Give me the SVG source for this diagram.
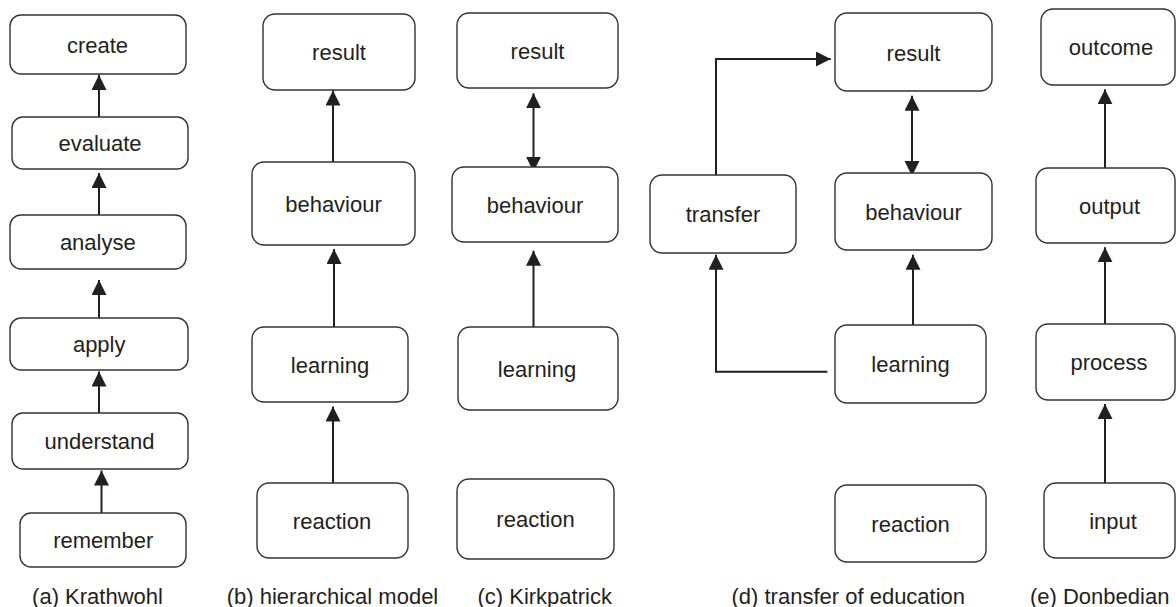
<svg xmlns="http://www.w3.org/2000/svg" width="1176" height="607" viewBox="0 0 1176 607">
<defs>
<style>
.box{fill:#fff;stroke:#333;stroke-width:1.4}
.lbl{font-family:"Liberation Sans",Arial,sans-serif;font-size:22px;fill:#231f20;text-anchor:middle}
.cap{font-family:"Liberation Sans",Arial,sans-serif;font-size:22px;fill:#231f20;text-anchor:middle}
.ln{fill:none;stroke:#231f20;stroke-width:2}
</style>
<marker id="ah" markerUnits="userSpaceOnUse" markerWidth="16" markerHeight="16" refX="15" refY="7.5" orient="auto-start-reverse" viewBox="0 0 16 16">
<path d="M0,0 L15,7.5 L0,15 z" fill="#231f20"/>
</marker>
</defs>
<rect width="1176" height="607" fill="#fff"/>

<g id="connectors">
<!-- (a) -->
<line class="ln" x1="99" y1="117" x2="99" y2="75" marker-end="url(#ah)"/>
<line class="ln" x1="99" y1="215" x2="99" y2="173" marker-end="url(#ah)"/>
<line class="ln" x1="99" y1="318" x2="99" y2="280" marker-end="url(#ah)"/>
<line class="ln" x1="99" y1="413" x2="99" y2="371.5" marker-end="url(#ah)"/>
<line class="ln" x1="101.5" y1="513" x2="101.5" y2="470.5" marker-end="url(#ah)"/>
<!-- (b) -->
<line class="ln" x1="333" y1="162" x2="333" y2="90.5" marker-end="url(#ah)"/>
<line class="ln" x1="334" y1="327" x2="334" y2="249" marker-end="url(#ah)"/>
<line class="ln" x1="333" y1="483" x2="333" y2="406.5" marker-end="url(#ah)"/>
<!-- (c) -->
<line class="ln" x1="533.5" y1="93.3" x2="533.5" y2="171.7" marker-start="url(#ah)" marker-end="url(#ah)"/>
<line class="ln" x1="533.5" y1="327" x2="533.5" y2="250.7" marker-end="url(#ah)"/>
<!-- (d) -->
<polyline class="ln" points="716,175 716,59 830.8,59" marker-end="url(#ah)"/>
<line class="ln" x1="912" y1="95.7" x2="912" y2="176" marker-start="url(#ah)" marker-end="url(#ah)"/>
<line class="ln" x1="913" y1="325" x2="913" y2="254.7" marker-end="url(#ah)"/>
<polyline class="ln" points="827.4,371.8 716,371.8 716,254.7" marker-end="url(#ah)"/>
<!-- (e) -->
<line class="ln" x1="1105" y1="168" x2="1105" y2="89.3" marker-end="url(#ah)"/>
<line class="ln" x1="1105" y1="324" x2="1105" y2="247.3" marker-end="url(#ah)"/>
<line class="ln" x1="1105" y1="483" x2="1105" y2="404" marker-end="url(#ah)"/>
</g>

<!-- (a) Krathwohl -->
<g id="a-create"><rect class="box" x="10" y="15" width="176" height="59" rx="11"/><text class="lbl" x="97.5" y="52.5">create</text></g>
<g id="a-evaluate"><rect class="box" x="12" y="117" width="176" height="52" rx="11"/><text class="lbl" x="100" y="151">evaluate</text></g>
<g id="a-analyse"><rect class="box" x="10" y="215" width="176" height="54" rx="11"/><text class="lbl" x="97.8" y="250">analyse</text></g>
<g id="a-apply"><rect class="box" x="10" y="318" width="178" height="52" rx="11"/><text class="lbl" x="99.2" y="352">apply</text></g>
<g id="a-understand"><rect class="box" x="12" y="413" width="176" height="56" rx="11"/><text class="lbl" x="99.5" y="449">understand</text></g>
<g id="a-remember"><rect class="box" x="20" y="513" width="166" height="54" rx="11"/><text class="lbl" x="103.3" y="548">remember</text></g>

<!-- (b) hierarchical model -->
<g id="b-result"><rect class="box" x="263" y="14" width="152" height="76" rx="12"/><text class="lbl" x="339" y="60">result</text></g>
<g id="b-behaviour"><rect class="box" x="252" y="162" width="163" height="83" rx="12"/><text class="lbl" x="333.5" y="212">behaviour</text></g>
<g id="b-learning"><rect class="box" x="252" y="327" width="156" height="75" rx="12"/><text class="lbl" x="330" y="372.5">learning</text></g>
<g id="b-reaction"><rect class="box" x="257" y="483" width="151" height="75" rx="12"/><text class="lbl" x="332" y="528.5">reaction</text></g>

<!-- (c) Kirkpatrick -->
<g id="c-result"><rect class="box" x="457" y="13" width="161" height="75" rx="12"/><text class="lbl" x="537.5" y="58.5">result</text></g>
<g id="c-behaviour"><rect class="box" x="452" y="167" width="166" height="75" rx="12"/><text class="lbl" x="535" y="212.5">behaviour</text></g>
<g id="c-learning"><rect class="box" x="458" y="327" width="160" height="83" rx="12"/><text class="lbl" x="537" y="376.5">learning</text></g>
<g id="c-reaction"><rect class="box" x="457" y="479" width="157" height="80" rx="12"/><text class="lbl" x="535.5" y="527">reaction</text></g>

<!-- (d) transfer of education -->
<g id="d-result"><rect class="box" x="835" y="13" width="157" height="78" rx="12"/><text class="lbl" x="913.5" y="60.5">result</text></g>
<g id="d-transfer"><rect class="box" x="650" y="175" width="146" height="78" rx="12"/><text class="lbl" x="723" y="222">transfer</text></g>
<g id="d-behaviour"><rect class="box" x="835" y="173" width="157" height="77" rx="12"/><text class="lbl" x="913.5" y="219.5">behaviour</text></g>
<g id="d-learning"><rect class="box" x="835" y="325" width="151" height="78" rx="12"/><text class="lbl" x="910.5" y="372">learning</text></g>
<g id="d-reaction"><rect class="box" x="835" y="485" width="151" height="77" rx="12"/><text class="lbl" x="910.5" y="531.5">reaction</text></g>

<!-- (e) Donbedian -->
<g id="e-outcome"><rect class="box" x="1041" y="9" width="134" height="76" rx="12"/><text class="lbl" x="1111" y="55">outcome</text></g>
<g id="e-output"><rect class="box" x="1036" y="168" width="139" height="75" rx="12"/><text class="lbl" x="1109.5" y="213.5">output</text></g>
<g id="e-process"><rect class="box" x="1036" y="324" width="139" height="76" rx="12"/><text class="lbl" x="1109" y="370">process</text></g>
<g id="e-input"><rect class="box" x="1044" y="483" width="131" height="75" rx="12"/><text class="lbl" x="1113" y="528.5">input</text></g>

<g id="captions">
<text class="cap" x="97.5" y="604">(a) Krathwohl</text>
<text class="cap" x="332.5" y="604">(b) hierarchical model</text>
<text class="cap" x="544.7" y="604">(c) Kirkpatrick</text>
<text class="cap" x="848.3" y="604">(d) transfer of education</text>
<text class="cap" x="1099.7" y="604">(e) Donbedian</text>
</g>
</svg>
